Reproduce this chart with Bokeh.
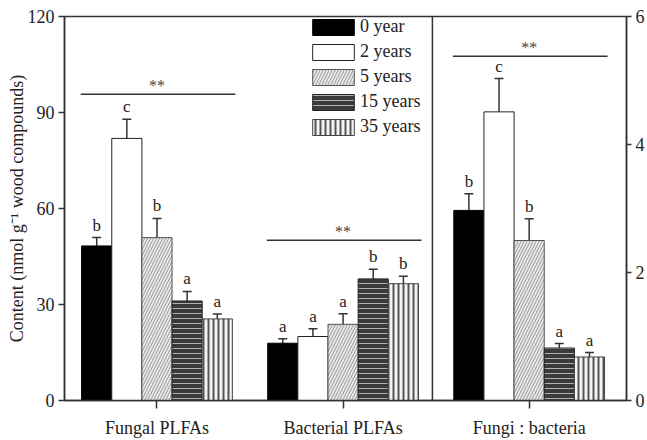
from bokeh.plotting import figure
from bokeh.models import (Range1d, LinearAxis, FixedTicker, ColumnDataSource, Whisker,
                          TeeHead, Span, Legend, LegendItem)
from bokeh.core.properties import value
from bokeh.embed import file_html
from bokeh.resources import INLINE

# ---------------- data ----------------
groups = ["Fungal PLFAs", "Bacterial PLFAs", "Fungi : bacteria"]
years = ["0 year", "2 years", "5 years", "15 years", "35 years"]

fungal = [48.3, 81.9, 50.9, 31.1, 25.5]
fungal_err = [2.6, 6.0, 6.0, 3.0, 1.5]
bacterial = [17.9, 20.0, 23.8, 38.0, 36.5]
bacterial_err = [1.4, 2.4, 3.3, 3.0, 2.3]
ratio = [2.97, 4.51, 2.50, 0.82, 0.68]
ratio_err = [0.26, 0.52, 0.34, 0.07, 0.07]

letters_fungal = ["b", "c", "b", "a", "a"]
letters_bacterial = ["a", "a", "a", "b", "b"]
letters_ratio = ["b", "c", "b", "a", "a"]

sig_y = [95.7, 50.1, 5.38]
sig_text = ["**", "**", "**"]

left_ticks = [0, 30, 60, 90, 120]
right_ticks = [0, 2, 4, 6]

# ---------------- layout / style ----------------
FONT = "Liberation Serif"
group_pos = [1, 2, 3]
bar_w = 0.162
AX = "#333333"

styles = [
    dict(fill_color="black", line_color="black"),
    dict(fill_color="white", line_color="#222222"),
    dict(fill_color="#e8e8e8", line_color="#555555", hatch_pattern="/", hatch_color="#9a9a9a",
         hatch_scale=6, hatch_weight=1),
    dict(fill_color="#3a3a3a", line_color="#222222", hatch_pattern="-", hatch_color="#b0b0b0",
         hatch_scale=5, hatch_weight=1),
    dict(fill_color="#f4f4f4", line_color="#444444", hatch_pattern="|", hatch_color="#555555",
         hatch_scale=5, hatch_weight=2),
]

p = figure(width=647, height=440, output_backend="svg", toolbar_location=None,
           x_range=Range1d(0.503, 3.523), y_range=Range1d(0, 120),
           min_border_left=64, min_border_right=21, min_border_top=16, min_border_bottom=40)
p.extra_y_ranges = {"right": Range1d(0, 6)}
p.grid.visible = False
p.outline_line_color = AX
p.outline_line_width = 1.5
p.background_fill_color = "white"
p.border_fill_color = "white"

# bars
legend_items = []
for i, yr in enumerate(years):
    off = (i - 2) * bar_w
    src12 = ColumnDataSource(dict(x=[group_pos[0] + off, group_pos[1] + off],
                                  top=[fungal[i], bacterial[i]]))
    r = p.vbar(x="x", top="top", width=bar_w, bottom=0, source=src12, line_width=1, **styles[i])
    src3 = ColumnDataSource(dict(x=[group_pos[2] + off], top=[ratio[i]]))
    p.vbar(x="x", top="top", width=bar_w, bottom=0, source=src3, line_width=1,
           y_range_name="right", **styles[i])
    legend_items.append(LegendItem(label=yr, renderers=[r]))

# error bars + letters
xs12, up12, lo12, lt12 = [], [], [], []
xs3, up3, lo3, lt3 = [], [], [], []
for i in range(5):
    off = (i - 2) * bar_w
    xs12 += [group_pos[0] + off, group_pos[1] + off]
    up12 += [fungal[i] + fungal_err[i], bacterial[i] + bacterial_err[i]]
    lo12 += [fungal[i] - fungal_err[i], bacterial[i] - bacterial_err[i]]
    lt12 += [letters_fungal[i], letters_bacterial[i]]
    xs3.append(group_pos[2] + off)
    up3.append(ratio[i] + ratio_err[i])
    lo3.append(ratio[i] - ratio_err[i])
    lt3.append(letters_ratio[i])

e12 = ColumnDataSource(dict(x=xs12, upper=up12, lower=lo12, t=lt12))
e3 = ColumnDataSource(dict(x=xs3, upper=up3, lower=lo3, t=lt3))


def whisk(src, **kw):
    return Whisker(source=src, base="x", upper="upper", lower="lower",
                   line_color=AX, line_width=1.5,
                   upper_head=TeeHead(size=9, line_color=AX, line_width=1.5),
                   lower_head=TeeHead(size=9, line_color=AX, line_width=1.5), **kw)


p.add_layout(whisk(e12))
p.add_layout(whisk(e3, y_range_name="right"))

txt_kw = dict(text="t", text_align="center", text_baseline="bottom", y_offset=-3,
              text_font=value(FONT), text_font_size="17px", text_color="#222222")
p.text(x="x", y="upper", source=e12, **txt_kw)
p.text(x="x", y="upper", source=e3, y_range_name="right", **txt_kw)

# significance lines
s_x0 = [g - 2.53 * bar_w for g in group_pos]
s_x1 = [g + 2.6 * bar_w for g in group_pos]
s12 = ColumnDataSource(dict(x0=s_x0[:2], x1=s_x1[:2], y=sig_y[:2], xc=group_pos[:2], t=sig_text[:2]))
s3 = ColumnDataSource(dict(x0=s_x0[2:], x1=s_x1[2:], y=sig_y[2:], xc=group_pos[2:], t=sig_text[2:]))
p.segment(x0="x0", y0="y", x1="x1", y1="y", source=s12, line_color=AX, line_width=1.5)
p.segment(x0="x0", y0="y", x1="x1", y1="y", source=s3, line_color=AX, line_width=1.5,
          y_range_name="right")
st_kw = dict(text="t", text_align="center", text_baseline="bottom", y_offset=0,
             text_font=value(FONT), text_font_size="16px", text_color="#444444")
p.text(x="xc", y="y", source=s12, **st_kw)
p.text(x="xc", y="y", source=s3, y_range_name="right", **st_kw)

# divider
p.add_layout(Span(location=2.48, dimension="height", line_color=AX, line_width=1.5))

# axes
xa = p.xaxis[0]
xa.ticker = FixedTicker(ticks=group_pos)
xa.major_label_overrides = {g: n for g, n in zip(group_pos, groups)}
xa.major_tick_out = 8
xa.major_tick_in = 0
xa.minor_tick_line_color = None
xa.major_label_standoff = 9

ya = p.yaxis[0]
ya.ticker = FixedTicker(ticks=left_ticks)
ya.major_tick_out = 6
ya.major_tick_in = 0
ya.minor_tick_line_color = None
ya.major_label_standoff = 4
ya.axis_label = "Content (nmol g\u207B\u00B9 wood compounds)"
ya.axis_label_standoff = -2

ra = LinearAxis(y_range_name="right", ticker=FixedTicker(ticks=right_ticks))
ra.major_tick_out = 5
ra.major_tick_in = 0
ra.minor_tick_line_color = None
ra.major_label_standoff = 4
p.add_layout(ra, "right")

for ax in [xa, ya, ra]:
    ax.axis_line_color = AX
    ax.axis_line_width = 1.5
    ax.major_tick_line_color = AX
    ax.major_tick_line_width = 1.5
    ax.major_label_text_font = FONT
    ax.major_label_text_font_size = "18px"
    ax.major_label_text_color = "#222222"
ya.axis_label_text_font = FONT
ya.axis_label_text_font_size = "18px"
ya.axis_label_text_font_style = "normal"
ya.axis_label_text_color = "#222222"

# legend
leg = Legend(items=legend_items, location=(243, 263), padding=6, margin=0, spacing=4,
             glyph_width=52, glyph_height=20, label_height=20, label_standoff=1,
             label_text_font=FONT, label_text_font_size="18px", label_text_color="#222222",
             border_line_color=None, background_fill_alpha=0)
p.add_layout(leg)

open("out.html", "w").write(file_html(p, INLINE))
